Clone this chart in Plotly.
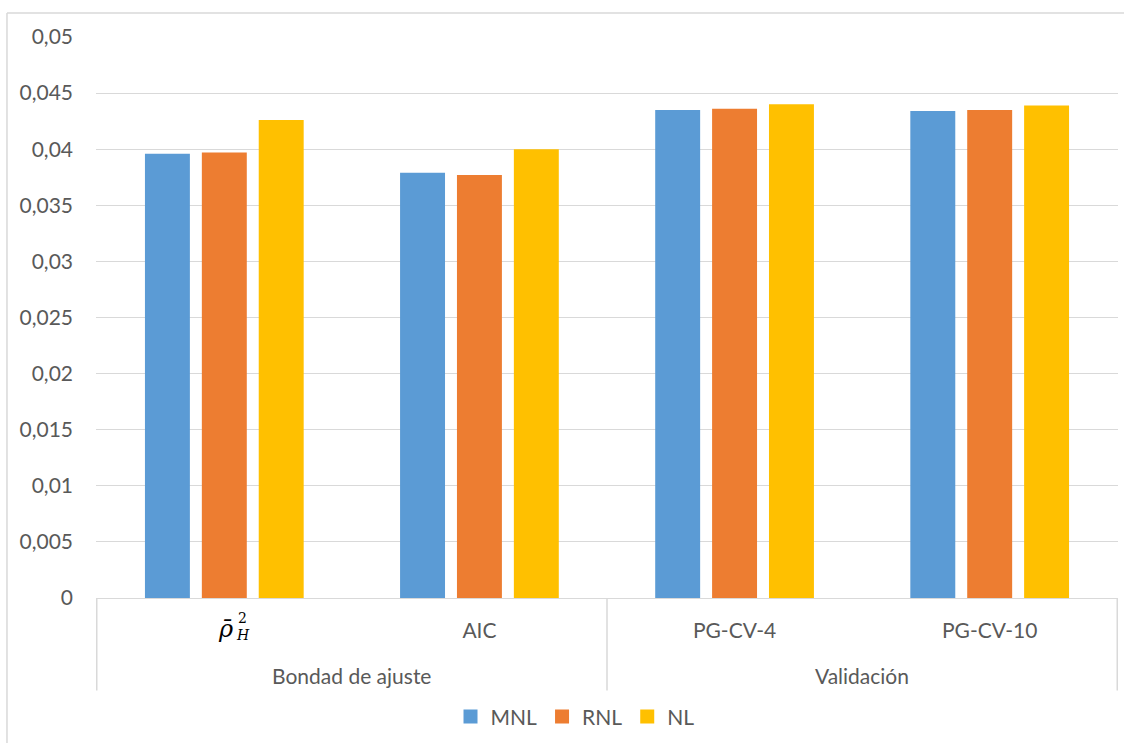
import plotly.graph_objects as go

# Categories (second level) and their groups (first level)
categories = ["rho", "AIC", "PG-CV-4", "PG-CV-10"]
category_labels = ["", "AIC", "PG-CV-4", "PG-CV-10"]
groups = ["Bondad de ajuste", "Validación"]
group_spans = [(0, 1), (2, 3)]

# Series values
mnl = [0.0396, 0.0379, 0.0435, 0.0434]
rnl = [0.0397, 0.0377, 0.0436, 0.0435]
nl = [0.0426, 0.0400, 0.0440, 0.0439]

series = [("MNL", mnl, "#5B9BD5"), ("RNL", rnl, "#ED7D31"), ("NL", nl, "#FFC000")]

FONT = "Lato"
TXT = "#595959"
GRID = "#D9D9D9"

fig = go.Figure()
for name, vals, color in series:
    fig.add_trace(go.Bar(
        name=name, x=categories, y=vals, showlegend=False,
        marker=dict(color=color, line=dict(width=0)),
    ))
# legend keys as larger square swatches
for name, vals, color in series:
    fig.add_trace(go.Scatter(
        name=name, x=[None], y=[None], mode="markers",
        marker=dict(symbol="square", size=14, color=color),
        showlegend=True, hoverinfo="skip",
    ))

fig.update_layout(
    width=1124, height=743,
    margin=dict(l=96, r=6, t=37, b=142),
    paper_bgcolor="white", plot_bgcolor="white",
    barmode="group", bargap=0.331, bargroupgap=0.21,
    separators=",.",
    font=dict(family=FONT, size=21, color=TXT),
    showlegend=True,
    legend=dict(
        orientation="h", x=0.4687, xanchor="center",
        y=-0.212, yanchor="middle",
        font=dict(family=FONT, size=21, color=TXT),
        traceorder="normal", itemwidth=30,
    ),
)

fig.update_yaxes(
    range=[0, 0.05], dtick=0.005, tick0=0,
    showgrid=True, gridcolor=GRID, gridwidth=1,
    zeroline=False, showline=False, ticks="",
    ticklabelstandoff=22,
    tickfont=dict(family=FONT, size=21, color=TXT),
)
fig.update_xaxes(
    type="category", categoryorder="array", categoryarray=categories,
    tickvals=categories, ticktext=category_labels,
    showline=True, linecolor=GRID, linewidth=1,
    showgrid=False, ticks="",
    ticklabelstandoff=14,
    tickfont=dict(family=FONT, size=21, color=TXT),
)

shapes = []
# dividers of the two-level category axis
for xv in [-0.5, 1.5, 3.5]:
    shapes.append(dict(type="line", xref="x", yref="paper",
                       x0=xv, x1=xv, y0=0, y1=-0.165,
                       line=dict(color=GRID, width=1.5)))
# chart area frame (top and left edges)
shapes.append(dict(type="line", xref="paper", yref="paper",
                   x0=-0.0871, x1=1.01, y0=1.0426, y1=1.0426,
                   line=dict(color=GRID, width=1.5)))
shapes.append(dict(type="line", xref="paper", yref="paper",
                   x0=-0.0871, x1=-0.0871, y0=1.0426, y1=-0.27,
                   line=dict(color=GRID, width=1.5)))
fig.update_layout(shapes=shapes)

annotations = []
for label, (a, b) in zip(groups, group_spans):
    annotations.append(dict(
        text=label, xref="x", yref="paper", x=(a + b) / 2, y=-0.139,
        showarrow=False, xanchor="center", yanchor="middle",
        font=dict(family=FONT, size=21, color=TXT)))

# rho-bar with stacked sub/superscript for the first category
annotations.append(dict(
    text="<i>ρ̄</i>", xref="x", yref="paper", x=0, y=-0.055,
    xshift=11, showarrow=False, xanchor="right", yanchor="middle",
    font=dict(family="DejaVu Serif", size=24, color="#000000")))
annotations.append(dict(
    text="<i>H</i>", xref="x", yref="paper", x=0, y=-0.0655,
    xshift=10, showarrow=False, xanchor="left", yanchor="middle",
    font=dict(family="DejaVu Serif", size=14, color="#000000")))
annotations.append(dict(
    text="2", xref="x", yref="paper", x=0, y=-0.035,
    xshift=12, showarrow=False, xanchor="left", yanchor="middle",
    font=dict(family="DejaVu Serif", size=14, color="#000000")))
fig.update_layout(annotations=annotations)

fig.write_html("out.html")
